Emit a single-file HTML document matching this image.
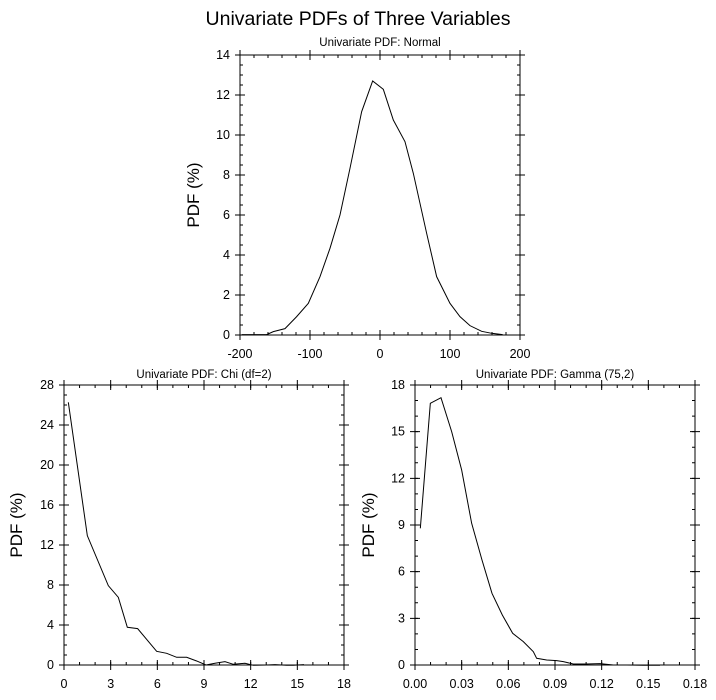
<!DOCTYPE html>
<html><head><style>body{margin:0;background:#fff}svg{display:block}</style></head><body>
<svg width="716" height="700" xmlns="http://www.w3.org/2000/svg" font-family="Liberation Sans, sans-serif">
<rect width="716" height="700" fill="#fff"/>
<text x="358" y="25" font-size="19.5" text-anchor="middle">Univariate PDFs of Three Variables</text>
<text x="380" y="46" font-size="11.5" text-anchor="middle">Univariate PDF: Normal</text>
<text x="204" y="378" font-size="11.5" text-anchor="middle">Univariate PDF: Chi (df=2)</text>
<text x="555" y="378" font-size="11.5" text-anchor="middle">Univariate PDF: Gamma (75,2)</text>
<g fill="none" stroke="#000" stroke-width="1">
<rect x="240" y="55" width="280" height="280"/>
<rect x="64" y="385" width="280" height="280"/>
<rect x="415" y="385" width="280" height="280"/>
</g>
<g stroke="#000" fill="none">
<!-- frame 1 -->
<g stroke-width="3" stroke-dasharray="1 13"><line x1="239.5" y1="333.5" x2="521" y2="333.5"/><line x1="239.5" y1="56.5" x2="521" y2="56.5"/></g>
<g stroke-width="10" stroke-dasharray="1 69"><line x1="239.5" y1="335" x2="521" y2="335"/><line x1="239.5" y1="55" x2="521" y2="55"/></g>
<g stroke-width="3" stroke-dasharray="1 9"><line x1="241.5" y1="54.5" x2="241.5" y2="336"/><line x1="518.5" y1="54.5" x2="518.5" y2="336"/></g>
<g stroke-width="10" stroke-dasharray="1 39"><line x1="240" y1="54.5" x2="240" y2="336"/><line x1="520" y1="54.5" x2="520" y2="336"/></g>
<!-- frame 2 -->
<g stroke-width="3" stroke-dasharray="1 14.556"><line x1="63.5" y1="663.5" x2="345" y2="663.5"/><line x1="63.5" y1="386.5" x2="345" y2="386.5"/></g>
<g stroke-width="10" stroke-dasharray="1 45.667"><line x1="63.5" y1="665" x2="345" y2="665"/><line x1="63.5" y1="385" x2="345" y2="385"/></g>
<g stroke-width="3" stroke-dasharray="1 9"><line x1="65.5" y1="384.5" x2="65.5" y2="666"/><line x1="342.5" y1="384.5" x2="342.5" y2="666"/></g>
<g stroke-width="10" stroke-dasharray="1 39"><line x1="64" y1="384.5" x2="64" y2="666"/><line x1="344" y1="384.5" x2="344" y2="666"/></g>
<!-- frame 3 -->
<g stroke-width="3" stroke-dasharray="1 14.556"><line x1="414.5" y1="663.5" x2="696" y2="663.5"/><line x1="414.5" y1="386.5" x2="696" y2="386.5"/></g>
<g stroke-width="10" stroke-dasharray="1 45.667"><line x1="414.5" y1="665" x2="696" y2="665"/><line x1="414.5" y1="385" x2="696" y2="385"/></g>
<g stroke-width="3" stroke-dasharray="1 14.556"><line x1="416.5" y1="384.5" x2="416.5" y2="666"/><line x1="693.5" y1="384.5" x2="693.5" y2="666"/></g>
<g stroke-width="10" stroke-dasharray="1 45.667"><line x1="415" y1="384.5" x2="415" y2="666"/><line x1="695" y1="384.5" x2="695" y2="666"/></g>
</g>
<g font-size="12.5" text-anchor="middle">
<text x="240" y="358">-200</text><text x="310" y="358">-100</text><text x="380" y="358">0</text><text x="450" y="358">100</text><text x="520" y="358">200</text>
<text x="64" y="688">0</text><text x="110.7" y="688">3</text><text x="157.3" y="688">6</text><text x="204" y="688">9</text><text x="250.7" y="688">12</text><text x="297.3" y="688">15</text><text x="344" y="688">18</text>
<text x="415" y="688">0.00</text><text x="461.7" y="688">0.03</text><text x="508.3" y="688">0.06</text><text x="555" y="688">0.09</text><text x="601.7" y="688">0.12</text><text x="648.3" y="688">0.15</text><text x="695" y="688">0.18</text>
</g>
<g font-size="12.5" text-anchor="end">
<text x="230" y="339">0</text><text x="230" y="299">2</text><text x="230" y="259">4</text><text x="230" y="219">6</text><text x="230" y="179">8</text><text x="230" y="139">10</text><text x="230" y="99">12</text><text x="230" y="59">14</text>
<text x="54" y="669">0</text><text x="54" y="629">4</text><text x="54" y="589">8</text><text x="54" y="549">12</text><text x="54" y="509">16</text><text x="54" y="469">20</text><text x="54" y="429">24</text><text x="54" y="389">28</text>
<text x="405" y="669">0</text><text x="405" y="622.3">3</text><text x="405" y="575.7">6</text><text x="405" y="529">9</text><text x="405" y="482.3">12</text><text x="405" y="435.7">15</text><text x="405" y="389">18</text>
</g>
<g font-size="17" text-anchor="middle">
<text transform="translate(199,195) rotate(-90)">PDF (%)</text>
<text transform="translate(22,525) rotate(-90)">PDF (%)</text>
<text transform="translate(374,525) rotate(-90)">PDF (%)</text>
</g>
<g fill="none" stroke="#000" stroke-width="3">
<polyline transform="translate(220,40) scale(0.3333)" points="65,884 140,884 160,875 195,866 230,830 265,790 300,710 330,625 360,525 390,385 425,215 458,123 490,148 520,240 555,305 580,400 620,580 650,710 690,790 720,830 750,857 785,874 815,880 848,884"/>
<polyline transform="translate(0,370) scale(0.3333)" points="205,97 262,497 325,647 355,682 382,772 413,776 470,844 500,850 530,862 560,862 590,873 618,885 645,880 675,875 700,883 735,880 760,886 800,885 825,884 860,886 880,886 912,884"/>
<polyline transform="translate(360,370) scale(0.3333)" points="181,475 211,100 243,83 275,185 305,300 335,460 366,570 396,670 427,735 458,790 490,815 520,845 530,865 560,870 590,872 610,875 640,882 680,882 720,881 760,885 800,885 850,886 900,886"/>
</g>
</svg>
</body></html>
